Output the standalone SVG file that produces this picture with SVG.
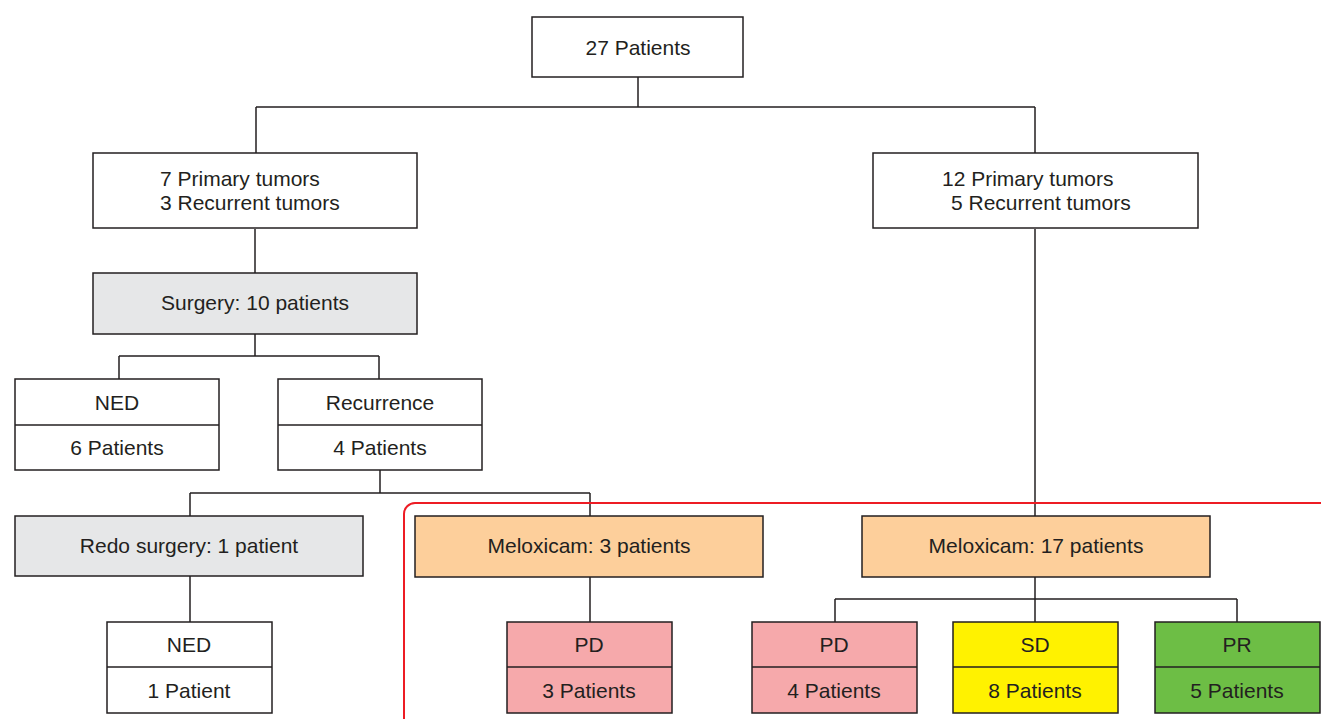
<svg xmlns="http://www.w3.org/2000/svg" width="1321" height="719" viewBox="0 0 1321 719">
<style>
.box{stroke:#231f20;stroke-width:1.5;}
.w{fill:#ffffff}
.g{fill:#e6e7e8}
.o{fill:#fdcf9b}
.p{fill:#f6a9ab}
.y{fill:#fff200}
.gr{fill:#6dbe45}
.ln{fill:none;stroke:#231f20;stroke-width:1.5}
text{font-family:"Liberation Sans",Arial,sans-serif;font-size:21px;fill:#231f20}
.c{text-anchor:middle}
</style>
<rect width="1321" height="719" fill="#ffffff"/>
<g id="connectors" class="ln">
<path d="M638 77V107M256 107H1035M256 107V153M1035 107V153"/>
<path d="M255 229V273"/>
<path d="M255 334V356M119 356H379M119 356V379M379 356V379"/>
<path d="M380 470V493M190 493H590M190 493V516M590 493V516"/>
<path d="M190 576V622"/>
<path d="M590 577V622"/>
<path d="M1035 229V516"/>
<path d="M1035 577V599M835 599H1237M835 599V622M1035 599V622M1237 599V622"/>
</g>
<g id="frame"><rect x="404" y="503" width="1000" height="300" rx="11" fill="none" stroke="#ed1c24" stroke-width="2"/></g>
<g id="n27"><rect class="box w" x="532" y="17" width="211" height="60"/><text class="c" x="638" y="55">27 Patients</text></g>
<g id="left"><rect class="box w" x="93" y="153" width="324" height="75"/><text x="160" y="186">7 Primary tumors</text><text x="160" y="210">3 Recurrent tumors</text></g>
<g id="right"><rect class="box w" x="873" y="153" width="325" height="75"/><text x="942" y="186">12 Primary tumors</text><text x="951" y="210">5 Recurrent tumors</text></g>
<g id="surgery"><rect class="box g" x="93" y="273" width="324" height="61"/><text class="c" x="255" y="310">Surgery: 10 patients</text></g>
<g id="ned1"><rect class="box w" x="15" y="379" width="204" height="91"/><path class="ln" d="M15 425H219"/><text class="c" x="117" y="410">NED</text><text class="c" x="117" y="455">6 Patients</text></g>
<g id="recurrence"><rect class="box w" x="278" y="379" width="204" height="91"/><path class="ln" d="M278 425H482"/><text class="c" x="380" y="410">Recurrence</text><text class="c" x="380" y="455">4 Patients</text></g>
<g id="redo"><rect class="box g" x="15" y="516" width="348" height="60"/><text class="c" x="189" y="553">Redo surgery: 1 patient</text></g>
<g id="melox3"><rect class="box o" x="415" y="516" width="348" height="61"/><text class="c" x="589" y="553">Meloxicam: 3 patients</text></g>
<g id="melox17"><rect class="box o" x="862" y="516" width="348" height="61"/><text class="c" x="1036" y="553">Meloxicam: 17 patients</text></g>
<g id="ned2"><rect class="box w" x="107" y="622" width="165" height="91"/><path class="ln" d="M107 667H272"/><text class="c" x="189" y="652">NED</text><text class="c" x="189" y="698">1 Patient</text></g>
<g id="pd3"><rect class="box p" x="507" y="622" width="165" height="91"/><path class="ln" d="M507 667H672"/><text class="c" x="589" y="652">PD</text><text class="c" x="589" y="698">3 Patients</text></g>
<g id="pd4"><rect class="box p" x="752" y="622" width="165" height="91"/><path class="ln" d="M752 667H917"/><text class="c" x="834" y="652">PD</text><text class="c" x="834" y="698">4 Patients</text></g>
<g id="sd"><rect class="box y" x="953" y="622" width="165" height="91"/><path class="ln" d="M953 667H1118"/><text class="c" x="1035" y="652">SD</text><text class="c" x="1035" y="698">8 Patients</text></g>
<g id="pr"><rect class="box gr" x="1155" y="622" width="165" height="91"/><path class="ln" d="M1155 667H1320"/><text class="c" x="1237" y="652">PR</text><text class="c" x="1237" y="698">5 Patients</text></g>
</svg>
